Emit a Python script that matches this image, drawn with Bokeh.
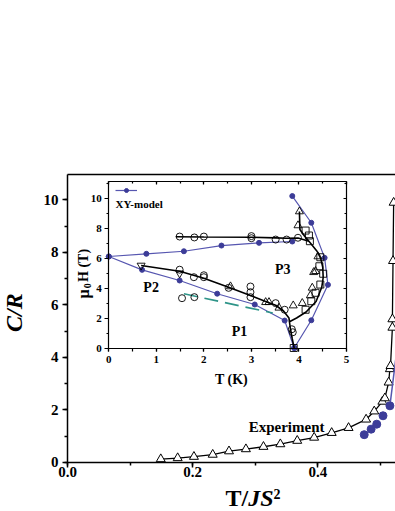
import math
from bokeh.plotting import figure
from bokeh.models import (Range1d, LinearAxis, SingleIntervalTicker, FixedTicker, Label,
                          NumeralTickFormatter, CustomJSTickFormatter, Legend, LegendItem)
from bokeh.embed import file_html
from bokeh.resources import INLINE

FONT = "Liberation Serif"
BLUE = "#3c3c98"
BLUE_LINE = "#5656b0"
TEAL = "#2e9488"

# ---------------- main panel data (C/R vs T/JS^2) ----------------
exp_x = [0.149, 0.176, 0.202, 0.232, 0.258, 0.285, 0.313, 0.340, 0.367, 0.394, 0.422,
         0.449, 0.477, 0.490, 0.503, 0.507, 0.513, 0.515, 0.516, 0.519, 0.519, 0.520, 0.521]
exp_y = [0.13, 0.17, 0.22, 0.30, 0.43, 0.51, 0.60, 0.70, 0.83, 0.95, 1.13,
         1.32, 1.64, 1.95, 2.32, 2.45, 3.05, 3.56, 3.68, 5.14, 5.46, 7.68, 9.90]
xy_x = [0.474, 0.485, 0.494, 0.504, 0.515]
xy_y = [1.06, 1.27, 1.46, 1.78, 2.16]
xy_rise_x = [0.515, 0.530]
xy_rise_y = [2.16, 5.0]

# ---------------- inset data (mu0 H vs T) ----------------
xy_up_T = [0.0, 0.79, 1.58, 2.37, 3.16, 3.86]
xy_up_H = [6.1, 6.28, 6.45, 6.83, 7.01, 7.10]
xy_lo_T = [0.0, 0.70, 1.49, 2.28, 3.07, 3.70, 3.90]
xy_lo_H = [6.1, 5.21, 4.50, 3.62, 2.90, 1.83, 0.0]
xy_rt_T = [3.86, 4.26, 4.54, 4.61, 4.26, 3.90]
xy_rt_H = [10.13, 8.35, 6.01, 4.21, 1.85, 0.0]

up_T = [1.41, 2.0, 3.0, 3.51, 3.74, 3.98, 4.21]
up_H = [7.42, 7.40, 7.38, 7.34, 7.32, 7.33, 7.12]
rt_T = [4.01, 4.02, 4.12, 4.24, 4.38, 4.46, 4.50, 4.51, 4.48, 4.36, 4.15, 3.95, 3.80, 3.82, 3.86, 3.90]
rt_H = [9.10, 7.90, 7.45, 7.00, 6.45, 5.95, 5.40, 4.70, 4.05, 3.10, 2.40, 2.00, 1.75, 1.30, 0.60, 0.0]
lo_T = [0.68, 1.49, 2.00, 2.52, 2.98, 3.30, 3.51, 3.68, 3.79, 3.80]
lo_H = [5.50, 5.12, 4.65, 4.05, 3.50, 3.10, 2.85, 2.45, 2.00, 1.75]
teal_T = [1.58, 3.45]
teal_H = [3.62, 2.33]

circ_T = [1.49, 1.80, 2.00, 3.00, 3.00, 3.51, 3.74, 3.98,
          1.49, 1.79, 2.00, 2.00, 2.52, 2.98, 2.98, 2.98, 3.51, 3.70,
          1.54, 1.80, 3.85, 3.87]
circ_H = [7.43, 7.37, 7.43, 7.46, 7.32, 7.23, 7.23, 7.35,
          5.22, 4.72, 4.85, 4.72, 4.01, 4.10, 3.72, 3.39, 2.99, 2.55,
          3.32, 3.39, 1.25, 1.05]
tri_T = [4.01, 3.98, 4.40, 4.35, 4.28, 4.24, 4.07, 3.88, 3.30, 2.56, 3.37, 3.58, 4.31]
tri_H = [9.10, 8.17, 6.10, 5.12, 4.01, 3.50, 2.99, 2.83, 3.05, 4.10, 3.05, 2.68, 5.05]
tridn_T = [0.68, 1.49]
tridn_H = [5.50, 4.98]
sq_T = [4.14, 4.21, 4.23, 4.45, 4.43, 4.51, 4.45, 4.35, 4.26, 4.14, 3.89]
sq_H = [7.83, 7.50, 7.12, 6.05, 5.45, 4.95, 4.23, 3.68, 3.12, 2.55, 0.0]

# ---------------- figure: frame covers the whole canvas, axes are placed inside ----------------
X_MAX, Y_MAX = 0.524, 10.97      # visible main-panel extent
T_MAX, H_MAX = 5.0, 11.1         # inset extent

p = figure(width=395, height=511, output_backend="svg", toolbar_location=None,
           x_range=Range1d(-0.10703, 0.52396), y_range=Range1d(-1.8667, 17.6),
           x_axis_type=None, y_axis_type=None,
           min_border_left=0, min_border_right=0, min_border_top=0, min_border_bottom=0)
p.title.visible = False
p.outline_line_color = None
p.background_fill_color = "white"
p.border_fill_color = "white"

p.extra_x_ranges = {"ix": Range1d(-2.278, 6.031)}
p.extra_y_ranges = {"iy": Range1d(-10.9, 23.167)}


def style(ax, size, tout, mout, lw, standoff, tin=0, min_=0):
    ax.axis_line_width = lw
    ax.axis_line_color = "black"
    ax.major_tick_line_width = lw
    ax.minor_tick_line_width = lw
    ax.major_tick_out = tout
    ax.major_tick_in = tin
    ax.minor_tick_out = mout
    ax.minor_tick_in = min_
    ax.major_label_text_font = FONT
    ax.major_label_text_font_style = "bold"
    ax.major_label_text_font_size = size
    ax.major_label_text_color = "black"
    ax.major_label_standoff = standoff


empty = CustomJSTickFormatter(code="return ''")

# main axes
xa = LinearAxis(fixed_location=0, bounds=(0, X_MAX),
                ticker=SingleIntervalTicker(interval=0.2, num_minor_ticks=2),
                formatter=NumeralTickFormatter(format="0.0"))
style(xa, "15px", 5, 3, 1.5, 0)
p.add_layout(xa, "below")
ya = LinearAxis(fixed_location=0, bounds=(0, Y_MAX),
                ticker=SingleIntervalTicker(interval=2, num_minor_ticks=2))
style(ya, "15px", 5, 3, 1.5, 4)
p.add_layout(ya, "left")
ta = LinearAxis(fixed_location=Y_MAX, bounds=(0, X_MAX), ticker=FixedTicker(ticks=[]), formatter=empty)
style(ta, "1px", 0, 0, 1.5, 0)
p.add_layout(ta, "above")

# inset axes
kw = dict(x_range_name="ix", y_range_name="iy")
ibx = LinearAxis(fixed_location=0, bounds=(0, T_MAX),
                 ticker=SingleIntervalTicker(interval=1, num_minor_ticks=2), **kw)
style(ibx, "11px", 3, 3, 1.2, 5)
p.add_layout(ibx, "below")
ily = LinearAxis(fixed_location=0, bounds=(0, H_MAX),
                 ticker=SingleIntervalTicker(interval=2, num_minor_ticks=2), **kw)
style(ily, "11px", 4, 2, 1.2, 3)
p.add_layout(ily, "left")
itx = LinearAxis(fixed_location=H_MAX, bounds=(0, T_MAX),
                 ticker=SingleIntervalTicker(interval=1, num_minor_ticks=2), formatter=empty, **kw)
style(itx, "11px", 0, 0, 1.2, 0, tin=3, min_=2)
p.add_layout(itx, "above")
iry = LinearAxis(fixed_location=T_MAX, bounds=(0, H_MAX),
                 ticker=SingleIntervalTicker(interval=2, num_minor_ticks=2), formatter=empty, **kw)
style(iry, "11px", 0, 0, 1.2, 0, tin=3, min_=2)
p.add_layout(iry, "right")

# ---------------- main glyphs ----------------
p.line(exp_x, exp_y, line_color="black", line_width=1.3)
p.scatter(exp_x, exp_y, marker="triangle", size=9, fill_color="white",
          line_color="black", line_width=1)
p.line(xy_rise_x, xy_rise_y, line_color=BLUE_LINE, line_width=1.5)
p.scatter(xy_x, xy_y, marker="circle", size=8, fill_color=BLUE, line_color=BLUE)

# ---------------- inset glyphs ----------------
r_lines = []
for T, H in ((xy_up_T, xy_up_H), (xy_lo_T, xy_lo_H), (xy_rt_T, xy_rt_H)):
    r_lines.append(p.line(T, H, line_color=BLUE_LINE, line_width=1.2, **kw))
    r_dot = p.scatter(T, H, marker="circle", size=5, fill_color=BLUE, line_color=BLUE, **kw)

p.line(teal_T, teal_H, line_color=TEAL, line_width=1.6, line_dash="14 7", **kw)
for T, H in ((up_T, up_H), (rt_T, rt_H), (lo_T, lo_H)):
    p.line(T, H, line_color="black", line_width=1.6, **kw)

p.scatter(circ_T, circ_H, marker="circle", size=7, fill_color=None, line_color="black", line_width=0.9, **kw)
p.scatter(tri_T, tri_H, marker="triangle", size=8, fill_color=None, line_color="black", line_width=0.9, **kw)
p.scatter(tridn_T, tridn_H, marker="inverted_triangle", size=8, fill_color=None, line_color="black", line_width=0.9, **kw)
p.scatter(sq_T, sq_H, marker="square", size=7, fill_color=None, line_color="black", line_width=0.9, **kw)

# legend sample (line + dot), text placed below it
leg = Legend(items=[LegendItem(label=" ", renderers=[r_lines[0], r_dot])],
             location=(115, 316), padding=0, margin=0, spacing=0,
             glyph_width=22, glyph_height=10, label_height=10, label_width=1,
             label_text_font_size="1px", background_fill_alpha=0, border_line_color=None)
p.add_layout(leg, "center")


def lab(text, x, y, size, style_="bold", align="center", base="middle", angle=0.0, **k):
    p.add_layout(Label(x=x, y=y, text=text, text_font=FONT, text_font_size=size,
                       text_font_style=style_, text_align=align, text_baseline=base,
                       angle=angle, text_color="black", **k))


lab("XY-model", 0.14, 9.63, "11px", align="left", **kw)
lab("P1", 2.75, 1.12, "14px", **kw)
lab("P2", 0.89, 4.03, "14px", **kw)
lab("P3", 3.66, 5.23, "14px", **kw)
lab("T (K)", 2.58, -2.1, "14px", **kw)
# inset y title: mu_0 H (T)
lab("μ", -0.532, 3.3, "16px", align="left", angle=math.pi / 2, **kw)
lab("0", -0.4375, 3.98, "10px", align="left", angle=math.pi / 2, **kw)
lab("H (T)", -0.532, 4.40, "14px", align="left", angle=math.pi / 2, **kw)

lab("Experiment", 0.350, 1.37, "15px")
# main titles
lab("C/R", -0.0847, 5.71, "24px", style_="bold italic", angle=math.pi / 2)
lab("T/", 0.2524, -1.352, "24px", align="left")
lab("JS", 0.2887, -1.352, "24px", style_="bold italic", align="left")
lab("2", 0.329, -1.2, "14px", align="left")

open("out.html", "w").write(file_html(p, INLINE))
